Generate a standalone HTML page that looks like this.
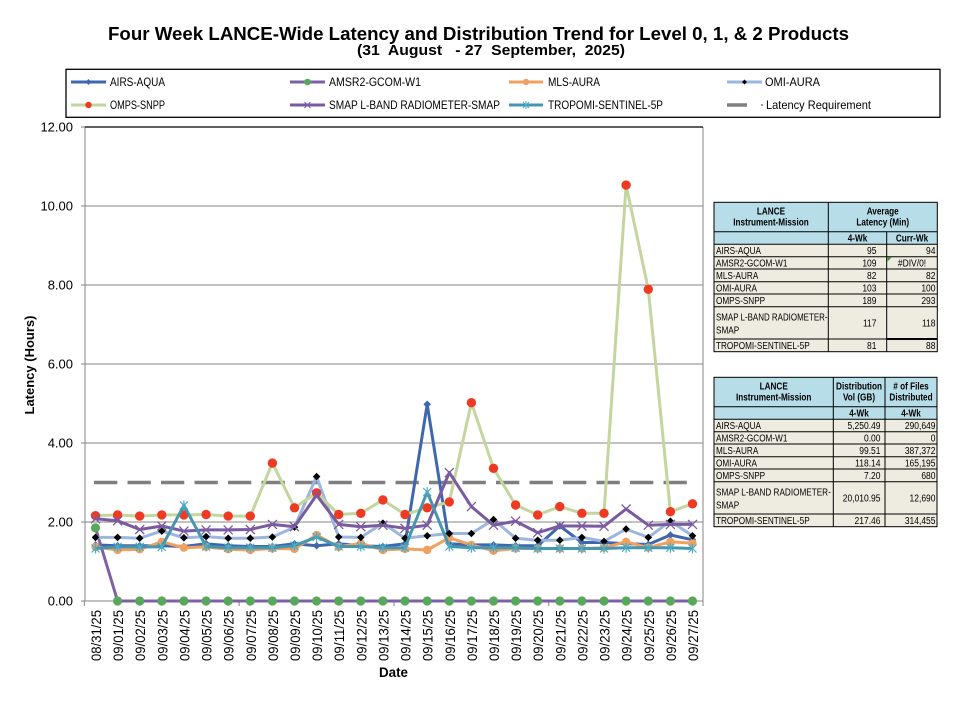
<!DOCTYPE html>
<html><head><meta charset="utf-8">
<style>
html,body{margin:0;padding:0;background:#fff;}
svg{display:block;font-family:"Liberation Sans",sans-serif;}
</style></head>
<body>
<svg width="955" height="712" viewBox="0 0 955 712" xmlns="http://www.w3.org/2000/svg">
<defs>
<marker id="mAirs" markerUnits="userSpaceOnUse" markerWidth="12" markerHeight="12" viewBox="-6 -6 12 12" refX="0" refY="0" overflow="visible"><path d="M0,-3.8L3.8,0L0,3.8L-3.8,0Z" fill="#3F67AE"/></marker>
<marker id="mAmsr" markerUnits="userSpaceOnUse" markerWidth="12" markerHeight="12" viewBox="-6 -6 12 12" refX="0" refY="0" overflow="visible"><circle r="4.6" fill="#58A85C"/></marker>
<marker id="mMls" markerUnits="userSpaceOnUse" markerWidth="12" markerHeight="12" viewBox="-6 -6 12 12" refX="0" refY="0" overflow="visible"><circle r="4.2" fill="#F0A060"/></marker>
<marker id="mOmi" markerUnits="userSpaceOnUse" markerWidth="12" markerHeight="12" viewBox="-6 -6 12 12" refX="0" refY="0" overflow="visible"><path d="M0,-3.8L3.8,0L0,3.8L-3.8,0Z" fill="#000"/></marker>
<marker id="mOmps" markerUnits="userSpaceOnUse" markerWidth="12" markerHeight="12" viewBox="-6 -6 12 12" refX="0" refY="0" overflow="visible"><circle r="4.7" fill="#EE3A22"/></marker>
<marker id="mSmap" markerUnits="userSpaceOnUse" markerWidth="12" markerHeight="12" viewBox="-6 -6 12 12" refX="0" refY="0" overflow="visible"><path d="M-4.5,-4.5L4.5,4.5M-4.5,4.5L4.5,-4.5" stroke="#7A5AA0" stroke-width="1.3" fill="none"/></marker>
<marker id="mTrop" markerUnits="userSpaceOnUse" markerWidth="12" markerHeight="12" viewBox="-6 -6 12 12" refX="0" refY="0" overflow="visible"><path d="M-4,-4L4,4M-4,4L4,-4M0,-5V5" stroke="#4BACC6" stroke-width="1.2" fill="none"/></marker>
</defs>

<!-- Title -->
<text x="108" y="40" font-size="18" font-weight="bold" textLength="741" lengthAdjust="spacingAndGlyphs">Four Week LANCE-Wide Latency and Distribution Trend for Level 0, 1, &amp; 2 Products</text>
<text x="357" y="55" font-size="15" font-weight="bold" textLength="268" lengthAdjust="spacingAndGlyphs">(31&#160; August&#160;&#160; - 27&#160; September,&#160; 2025)</text>

<!-- Legend -->
<rect x="66" y="69.3" width="874" height="48" fill="none" stroke="#000" stroke-width="1.3"/>
<g stroke-width="3">
<line x1="71" y1="82" x2="106" y2="82" stroke="#3F67AE"/>
<line x1="290" y1="82" x2="325" y2="82" stroke="#7D60A5"/>
<line x1="509" y1="82" x2="543" y2="82" stroke="#F0A060"/>
<line x1="727" y1="82" x2="762" y2="82" stroke="#9CB6DE"/>
<line x1="71" y1="105" x2="106" y2="105" stroke="#C2D69E"/>
<line x1="290" y1="105" x2="325" y2="105" stroke="#7A5AA0"/>
<line x1="509" y1="105" x2="543" y2="105" stroke="#4597AF"/>
<line x1="727" y1="105" x2="747" y2="105" stroke="#7F7F7F" stroke-width="3.5"/>
</g>
<path d="M88.5,79L91.5,82L88.5,85L85.5,82Z" fill="#3F67AE"/>
<circle cx="307.5" cy="82" r="3.3" fill="#58A85C"/>
<circle cx="526" cy="82" r="3.2" fill="#F0A060"/>
<path d="M744.5,79.5L747,82L744.5,84.5L742,82Z" fill="#000"/>
<circle cx="88.5" cy="105" r="3.2" fill="#EE3A22"/>
<path d="M304.5,102L310.5,108M304.5,108L310.5,102" stroke="#7A5AA0" stroke-width="1"/>
<path d="M523,102L529,108M523,108L529,102M526,101V109" stroke="#4BACC6" stroke-width="1"/>
<rect x="761" y="104" width="2" height="2" fill="#9a9a9a"/>
<g font-size="12" fill="#000">
<text x="110" y="86" textLength="55" lengthAdjust="spacingAndGlyphs">AIRS-AQUA</text>
<text x="329" y="86" textLength="92" lengthAdjust="spacingAndGlyphs">AMSR2-GCOM-W1</text>
<text x="548" y="86" textLength="52" lengthAdjust="spacingAndGlyphs">MLS-AURA</text>
<text x="765" y="86" textLength="55" lengthAdjust="spacingAndGlyphs">OMI-AURA</text>
<text x="110" y="109" textLength="55" lengthAdjust="spacingAndGlyphs">OMPS-SNPP</text>
<text x="329" y="109" textLength="171" lengthAdjust="spacingAndGlyphs">SMAP L-BAND RADIOMETER-SMAP</text>
<text x="548" y="109" textLength="115" lengthAdjust="spacingAndGlyphs">TROPOMI-SENTINEL-5P</text>
<text x="766" y="109" textLength="105" lengthAdjust="spacingAndGlyphs">Latency Requirement</text>
</g>

<!-- Plot area grid -->
<g stroke="#868686" stroke-width="1">
<line x1="85" y1="206" x2="703" y2="206"/>
<line x1="85" y1="285" x2="703" y2="285"/>
<line x1="85" y1="364" x2="703" y2="364"/>
<line x1="85" y1="443" x2="703" y2="443"/>
<line x1="85" y1="522" x2="703" y2="522"/>
<line x1="85" y1="601" x2="703" y2="601"/>
<line x1="85" y1="127" x2="85" y2="601"/>
<line x1="703" y1="127" x2="703" y2="601"/>
<line x1="81" y1="127" x2="85" y2="127"/>
<line x1="81" y1="206" x2="85" y2="206"/>
<line x1="81" y1="285" x2="85" y2="285"/>
<line x1="81" y1="364" x2="85" y2="364"/>
<line x1="81" y1="443" x2="85" y2="443"/>
<line x1="81" y1="522" x2="85" y2="522"/>
<line x1="81" y1="601" x2="85" y2="601"/>
<line x1="84.4" y1="601" x2="84.4" y2="606"/>
<line x1="239.2" y1="601" x2="239.2" y2="606"/>
<line x1="394" y1="601" x2="394" y2="606"/>
<line x1="548.7" y1="601" x2="548.7" y2="606"/>
<line x1="703" y1="601" x2="703" y2="606"/>
</g>
<line x1="85" y1="127" x2="703" y2="127" stroke="#000" stroke-width="1.2"/>

<!-- Y labels -->
<g font-size="13" text-anchor="end" fill="#000">
<text x="73" y="131.5">12.00</text>
<text x="73" y="210.5">10.00</text>
<text x="73" y="289.5">8.00</text>
<text x="73" y="368.5">6.00</text>
<text x="73" y="447.5">4.00</text>
<text x="73" y="526.5">2.00</text>
<text x="73" y="605.5">0.00</text>
</g>
<text transform="translate(34,365) rotate(-90)" font-size="13" font-weight="bold" text-anchor="middle">Latency (Hours)</text>

<!-- Latency requirement -->
<line x1="94" y1="482.5" x2="692.5" y2="482.5" stroke="#7F7F7F" stroke-width="3.5" stroke-dasharray="23.3 10.2"/>

<!-- Series -->
<g fill="none" stroke-width="3" stroke-linejoin="round">
<polyline stroke="#3F67AE" marker-start="url(#mAirs)" marker-mid="url(#mAirs)" marker-end="url(#mAirs)" points="95.5,544.9 117.6,545.7 139.7,545.7 161.8,545.7 183.9,546.5 206.1,543.7 228.2,545.7 250.3,546.5 272.4,546.5 294.5,543.7 316.6,545.7 338.7,543.7 360.8,545.7 382.9,546.5 405,543.7 427.2,404.3 449.3,543.7 471.4,544.9 493.5,544.9 515.6,545.7 537.7,545.7 559.8,526 581.9,542.5 604,542.5 626.1,543.7 648.3,544.5 670.4,535 692.5,539.8"/>
<polyline stroke="#7D60A5" marker-start="url(#mAmsr)" marker-mid="url(#mAmsr)" marker-end="url(#mAmsr)" points="95.5,527.9 117.6,601 139.7,601 161.8,601 183.9,601 206.1,601 228.2,601 250.3,601 272.4,601 294.5,601 316.6,601 338.7,601 360.8,601 382.9,601 405,601 427.2,601 449.3,601 471.4,601 493.5,601 515.6,601 537.7,601 559.8,601 581.9,601 604,601 626.1,601 648.3,601 670.4,601 692.5,601"/>
<polyline stroke="#F0A060" marker-start="url(#mMls)" marker-mid="url(#mMls)" marker-end="url(#mMls)" points="95.5,546.9 117.6,550 139.7,549.3 161.8,541.8 183.9,547.7 206.1,546.9 228.2,549.3 250.3,550 272.4,548.5 294.5,548.9 316.6,535 338.7,546.9 360.8,543.3 382.9,550 405,548.9 427.2,550 449.3,537.8 471.4,544.9 493.5,550.8 515.6,548.5 537.7,548.5 559.8,548.5 581.9,548.5 604,547.7 626.1,541.8 648.3,547.7 670.4,541.8 692.5,543.3"/>
<polyline stroke="#9CB6DE" marker-start="url(#mOmi)" marker-mid="url(#mOmi)" marker-end="url(#mOmi)" points="95.5,537.4 117.6,537.4 139.7,538.2 161.8,531.1 183.9,537.8 206.1,536.6 228.2,538.2 250.3,538.2 272.4,537 294.5,527.1 316.6,476.6 338.7,537 360.8,537.4 382.9,523.2 405,538.2 427.2,535.8 449.3,533.5 471.4,533.5 493.5,519.6 515.6,538.2 537.7,540.2 559.8,540.2 581.9,537.4 604,541.4 626.1,529.1 648.3,537.4 670.4,521.2 692.5,535.8"/>
<polyline stroke="#C2D69E" marker-start="url(#mOmps)" marker-mid="url(#mOmps)" marker-end="url(#mOmps)" points="95.5,515.7 117.6,514.9 139.7,516.1 161.8,514.9 183.9,514.9 206.1,514.5 228.2,516.1 250.3,516.1 272.4,463.1 294.5,507.8 316.6,492.8 338.7,514.5 360.8,513.3 382.9,499.9 405,514.5 427.2,507.8 449.3,501.9 471.4,402.7 493.5,468.3 515.6,505 537.7,514.9 559.8,506.6 581.9,513.3 604,513.3 626.1,185.1 648.3,289.3 670.4,511.7 692.5,503.8"/>
<polyline stroke="#7A5AA0" marker-start="url(#mSmap)" marker-mid="url(#mSmap)" marker-end="url(#mSmap)" points="95.5,518.8 117.6,520.8 139.7,529.5 161.8,526 183.9,531.1 206.1,529.9 228.2,529.9 250.3,529.5 272.4,524.4 294.5,526.7 316.6,495.1 338.7,524.4 360.8,526.7 382.9,525.2 405,528.3 427.2,525.2 449.3,472.6 471.4,506.6 493.5,525.2 515.6,521.2 537.7,532.7 559.8,526 581.9,526 604,526.3 626.1,509 648.3,525.2 670.4,524.4 692.5,524.4"/>
<polyline stroke="#4597AF" marker-start="url(#mTrop)" marker-mid="url(#mTrop)" marker-end="url(#mTrop)" points="95.5,548.5 117.6,546.9 139.7,546.9 161.8,546.9 183.9,505.4 206.1,546.5 228.2,547.7 250.3,547.7 272.4,547.7 294.5,545.7 316.6,537 338.7,546.5 360.8,546.5 382.9,547.7 405,547.7 427.2,492 449.3,546.5 471.4,547.7 493.5,547.7 515.6,547.7 537.7,548.5 559.8,548.5 581.9,548.5 604,548.5 626.1,547.7 648.3,547.7 670.4,547.7 692.5,548.5"/>
</g>

<!-- X labels -->
<g font-size="14" text-anchor="end" fill="#000">
<text transform="translate(101,610) rotate(-90)" textLength="51" lengthAdjust="spacingAndGlyphs">08/31/25</text>
<text transform="translate(123.1,610) rotate(-90)" textLength="51" lengthAdjust="spacingAndGlyphs">09/01/25</text>
<text transform="translate(145.2,610) rotate(-90)" textLength="51" lengthAdjust="spacingAndGlyphs">09/02/25</text>
<text transform="translate(167.3,610) rotate(-90)" textLength="51" lengthAdjust="spacingAndGlyphs">09/03/25</text>
<text transform="translate(189.4,610) rotate(-90)" textLength="51" lengthAdjust="spacingAndGlyphs">09/04/25</text>
<text transform="translate(211.6,610) rotate(-90)" textLength="51" lengthAdjust="spacingAndGlyphs">09/05/25</text>
<text transform="translate(233.7,610) rotate(-90)" textLength="51" lengthAdjust="spacingAndGlyphs">09/06/25</text>
<text transform="translate(255.8,610) rotate(-90)" textLength="51" lengthAdjust="spacingAndGlyphs">09/07/25</text>
<text transform="translate(277.9,610) rotate(-90)" textLength="51" lengthAdjust="spacingAndGlyphs">09/08/25</text>
<text transform="translate(300,610) rotate(-90)" textLength="51" lengthAdjust="spacingAndGlyphs">09/09/25</text>
<text transform="translate(322.1,610) rotate(-90)" textLength="51" lengthAdjust="spacingAndGlyphs">09/10/25</text>
<text transform="translate(344.2,610) rotate(-90)" textLength="51" lengthAdjust="spacingAndGlyphs">09/11/25</text>
<text transform="translate(366.3,610) rotate(-90)" textLength="51" lengthAdjust="spacingAndGlyphs">09/12/25</text>
<text transform="translate(388.4,610) rotate(-90)" textLength="51" lengthAdjust="spacingAndGlyphs">09/13/25</text>
<text transform="translate(410.5,610) rotate(-90)" textLength="51" lengthAdjust="spacingAndGlyphs">09/14/25</text>
<text transform="translate(432.7,610) rotate(-90)" textLength="51" lengthAdjust="spacingAndGlyphs">09/15/25</text>
<text transform="translate(454.8,610) rotate(-90)" textLength="51" lengthAdjust="spacingAndGlyphs">09/16/25</text>
<text transform="translate(476.9,610) rotate(-90)" textLength="51" lengthAdjust="spacingAndGlyphs">09/17/25</text>
<text transform="translate(499,610) rotate(-90)" textLength="51" lengthAdjust="spacingAndGlyphs">09/18/25</text>
<text transform="translate(521.1,610) rotate(-90)" textLength="51" lengthAdjust="spacingAndGlyphs">09/19/25</text>
<text transform="translate(543.2,610) rotate(-90)" textLength="51" lengthAdjust="spacingAndGlyphs">09/20/25</text>
<text transform="translate(565.3,610) rotate(-90)" textLength="51" lengthAdjust="spacingAndGlyphs">09/21/25</text>
<text transform="translate(587.4,610) rotate(-90)" textLength="51" lengthAdjust="spacingAndGlyphs">09/22/25</text>
<text transform="translate(609.5,610) rotate(-90)" textLength="51" lengthAdjust="spacingAndGlyphs">09/23/25</text>
<text transform="translate(631.6,610) rotate(-90)" textLength="51" lengthAdjust="spacingAndGlyphs">09/24/25</text>
<text transform="translate(653.8,610) rotate(-90)" textLength="51" lengthAdjust="spacingAndGlyphs">09/25/25</text>
<text transform="translate(675.9,610) rotate(-90)" textLength="51" lengthAdjust="spacingAndGlyphs">09/26/25</text>
<text transform="translate(698,610) rotate(-90)" textLength="51" lengthAdjust="spacingAndGlyphs">09/27/25</text>
</g>
<text x="379" y="677" font-size="14" font-weight="bold" textLength="29" lengthAdjust="spacingAndGlyphs">Date</text>

<!-- Table 1 -->
<rect x="714" y="202.3" width="223.3" height="42" fill="#B7DDE8"/>
<rect x="714" y="244.3" width="223.3" height="107.4" fill="#EEECE1"/>
<g stroke="#000" stroke-width="1" fill="none">
<rect x="714" y="202.3" width="223.3" height="149.4"/>
<line x1="714" y1="231.7" x2="937.3" y2="231.7"/>
<line x1="714" y1="244.3" x2="937.3" y2="244.3"/>
<line x1="714" y1="256.7" x2="937.3" y2="256.7"/>
<line x1="714" y1="269" x2="937.3" y2="269"/>
<line x1="714" y1="281.7" x2="937.3" y2="281.7"/>
<line x1="714" y1="294" x2="937.3" y2="294"/>
<line x1="714" y1="306.7" x2="937.3" y2="306.7"/>
<line x1="714" y1="339" x2="937.3" y2="339"/>
<line x1="828.3" y1="202.3" x2="828.3" y2="351.7"/>
<line x1="886.7" y1="231.7" x2="886.7" y2="351.7"/>
<line x1="886.7" y1="339" x2="937.3" y2="339" stroke-width="2"/>
</g>
<path d="M887.5,257.5h4l-4,4z" fill="#3A9A3A"/>
<g font-size="10" font-weight="bold" text-anchor="middle" fill="#000">
<g transform="translate(771 0) scale(0.82 1)"><text x="0" y="214.5">LANCE</text><text x="0" y="225.7">Instrument-Mission</text></g>
<g transform="translate(882.7 0) scale(0.82 1)"><text x="0" y="214.5">Average</text><text x="0" y="225.7">Latency (Min)</text></g>
<g transform="translate(857.5 0) scale(0.82 1)"><text x="0" y="241.5">4-Wk</text></g>
<g transform="translate(912 0) scale(0.82 1)"><text x="0" y="241.5">Curr-Wk</text></g>
</g>
<g font-size="10" fill="#000" transform="translate(716 0) scale(0.82 1)">
<text x="0" y="254.2">AIRS-AQUA</text>
<text x="0" y="266.5">AMSR2-GCOM-W1</text>
<text x="0" y="279">MLS-AURA</text>
<text x="0" y="291.5">OMI-AURA</text>
<text x="0" y="304">OMPS-SNPP</text>
<text x="0" y="320.5" textLength="136" lengthAdjust="spacingAndGlyphs">SMAP L-BAND RADIOMETER-</text>
<text x="0" y="333.5">SMAP</text>
<text x="0" y="349">TROPOMI-SENTINEL-5P</text>
</g>
<g font-size="10" fill="#000" text-anchor="end" transform="translate(876.5 0) scale(0.85 1)">
<text x="0" y="254.2">95</text>
<text x="0" y="266.5">109</text>
<text x="0" y="279">82</text>
<text x="0" y="291.5">103</text>
<text x="0" y="304">189</text>
<text x="0" y="326.5">117</text>
<text x="0" y="349">81</text>
</g>
<g font-size="10" fill="#000" text-anchor="end" transform="translate(935.5 0) scale(0.85 1)">
<text x="0" y="254.2">94</text>
<text x="0" y="279">82</text>
<text x="0" y="291.5">100</text>
<text x="0" y="304">293</text>
<text x="0" y="326.5">118</text>
<text x="0" y="349">88</text>
</g>
<g transform="translate(912 0) scale(0.85 1)"><text x="0" y="266.5" font-size="10" text-anchor="middle">#DIV/0!</text></g>

<!-- Table 2 -->
<rect x="714" y="377.3" width="223" height="42" fill="#B7DDE8"/>
<rect x="714" y="419.3" width="223" height="107.4" fill="#EEECE1"/>
<g stroke="#000" stroke-width="1" fill="none">
<rect x="714" y="377.3" width="223" height="149.4"/>
<line x1="714" y1="406.7" x2="937" y2="406.7"/>
<line x1="714" y1="419.3" x2="937" y2="419.3"/>
<line x1="714" y1="431.7" x2="937" y2="431.7"/>
<line x1="714" y1="444" x2="937" y2="444"/>
<line x1="714" y1="456.7" x2="937" y2="456.7"/>
<line x1="714" y1="469" x2="937" y2="469"/>
<line x1="714" y1="481.7" x2="937" y2="481.7"/>
<line x1="714" y1="514" x2="937" y2="514"/>
<line x1="833.3" y1="377.3" x2="833.3" y2="526.7"/>
<line x1="885" y1="377.3" x2="885" y2="526.7"/>
</g>
<g font-size="10" font-weight="bold" text-anchor="middle" fill="#000">
<g transform="translate(773.7 0) scale(0.82 1)"><text x="0" y="389.5">LANCE</text><text x="0" y="400.7">Instrument-Mission</text></g>
<g transform="translate(859 0) scale(0.82 1)"><text x="0" y="389.5">Distribution</text><text x="0" y="400.7">Vol (GB)</text><text x="0" y="416.5">4-Wk</text></g>
<g transform="translate(911 0) scale(0.82 1)"><text x="0" y="389.5"># of Files</text><text x="0" y="400.7">Distributed</text><text x="0" y="416.5">4-Wk</text></g>
</g>
<g font-size="10" fill="#000" transform="translate(716 0) scale(0.82 1)">
<text x="0" y="429.2">AIRS-AQUA</text>
<text x="0" y="441.5">AMSR2-GCOM-W1</text>
<text x="0" y="454">MLS-AURA</text>
<text x="0" y="466.5">OMI-AURA</text>
<text x="0" y="479">OMPS-SNPP</text>
<text x="0" y="495.5" textLength="140" lengthAdjust="spacingAndGlyphs">SMAP L-BAND RADIOMETER-</text>
<text x="0" y="508.5">SMAP</text>
<text x="0" y="524">TROPOMI-SENTINEL-5P</text>
</g>
<g font-size="10" fill="#000" text-anchor="end" transform="translate(880.5 0) scale(0.85 1)">
<text x="0" y="429.2">5,250.49</text>
<text x="0" y="441.5">0.00</text>
<text x="0" y="454">99.51</text>
<text x="0" y="466.5">118.14</text>
<text x="0" y="479">7.20</text>
<text x="0" y="501.5">20,010.95</text>
<text x="0" y="524">217.46</text>
</g>
<g font-size="10" fill="#000" text-anchor="end" transform="translate(935.5 0) scale(0.85 1)">
<text x="0" y="429.2">290,649</text>
<text x="0" y="441.5">0</text>
<text x="0" y="454">387,372</text>
<text x="0" y="466.5">165,195</text>
<text x="0" y="479">680</text>
<text x="0" y="501.5">12,690</text>
<text x="0" y="524">314,455</text>
</g>
</svg>
</body></html>
